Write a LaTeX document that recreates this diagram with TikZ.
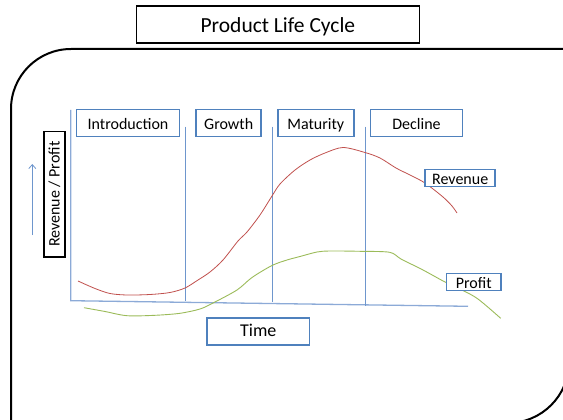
\documentclass[tikz,border=0pt]{standalone}
\usepackage{fontspec}
\setmainfont{Carlito}
\usetikzlibrary{arrows.meta}
\definecolor{boxblue}{RGB}{79,129,189}
\definecolor{lineblue}{RGB}{110,150,205}
\definecolor{axisblue}{RGB}{140,170,215}
\definecolor{revred}{RGB}{192,80,77}
\definecolor{profgreen}{RGB}{155,187,89}
\tikzset{
  labelbox/.style={draw=boxblue, line width=1.7pt, fill=white, inner sep=0pt,
    font=\fontsize{16}{19}\selectfont, text=black, text height=14.6pt, text depth=2pt},
  blackbox/.style={draw=black, line width=1.8pt, fill=white, inner sep=0pt, text=black},
  phaseline/.style={draw=lineblue, line width=0.9pt},
  axisline/.style={draw=axisblue, line width=1.3pt},
  revcurve/.style={draw=revred, line width=0.8pt},
  profcurve/.style={draw=profgreen, line width=0.9pt},
  frameline/.style={draw=black, line width=2pt}
}
\begin{document}
\begin{tikzpicture}[x=1pt,y=-1pt]
\useasboundingbox (0,0) rectangle (563,420);
\begin{scope}
\clip (0,0) rectangle (563,420);
\draw[frameline] (11,423) -- (11,109) arc[start angle=180,end angle=270,radius=60]
  -- (569,49) -- (569,362) arc[start angle=0,end angle=90,radius=61] -- cycle;
\end{scope}

% title
\node[blackbox, minimum width=283pt, minimum height=37pt, text height=18pt, text depth=2.8pt,
  font=\fontsize{21.5}{25}\selectfont] (title) at (277.9,24.7) {Product Life Cycle};

% axes
\coordinate (ytop) at (70.7,110);
\coordinate (origin) at (70.7,300.7);
\coordinate (xend) at (468,306.3);
\draw[axisline] (ytop) -- (origin) -- (xend);

% phase separators
\coordinate (s1t) at (185,126.7); \coordinate (s1b) at (185,300.8);
\coordinate (s2t) at (272,126.7); \coordinate (s2b) at (272,301.5);
\coordinate (s3t) at (365,126.7); \coordinate (s3b) at (365,306);
\draw[phaseline] (s1t) -- (s1b);
\draw[phaseline] (s2t) -- (s2b);
\draw[phaseline] (s3t) -- (s3b);

% y arrow
\coordinate (arrS) at (32.3,235);
\coordinate (arrE) at (32.3,164);
\draw[draw=lineblue, line width=0.8pt, -{Straight Barb[length=4pt,width=7pt]}] (arrS) -- (arrE);

% curves
\draw[revcurve] plot[smooth, tension=0.5] coordinates {
 (78,281) (95,288.5) (110,293.5) (127,295) (150,294.5) (170,292.5) (185,288)
 (198,280) (210,272) (223,260) (238,241) (247,232) (260,215) (272,196)
 (280,184) (295,170) (310,160) (325,153) (343,147.5) (365,152.5) (380,158)
 (396,168) (410,175) (425,183) (443,197) (452,206) (457,213)};
\draw[profcurve] plot[smooth, tension=0.5] coordinates {
 (84,307.7) (105,311.5) (127,315.7) (155,315.3) (180,313.3) (200,309)
 (213,303) (237,290) (252,277.5) (272,265.5) (287,260) (300,256.5)
 (317,252) (330,251) (360,251.3) (389.7,252.3) (401,259) (423,270)
 (445,282) (462,290) (478,299) (500.7,318.3)};

% phase labels
\node[labelbox, minimum width=103pt, minimum height=27pt] (intro) at (128,123) {Introduction};
\node[labelbox, minimum width=65pt, minimum height=27pt] (growth) at (228.7,123) {Growth};
\node[labelbox, minimum width=76pt, minimum height=27pt] (maturity) at (315.8,123) {Maturity};
\node[labelbox, minimum width=92pt, minimum height=27pt] (decline) at (416.5,123) {Decline};

% curve labels
\node[labelbox, minimum width=70pt, minimum height=17pt] (revenue) at (460.2,178) {Revenue};
\node[labelbox, minimum width=54.5pt, minimum height=17pt] (profit) at (473.7,282) {Profit};

% axis labels
\node[labelbox, minimum width=102.5pt, minimum height=27pt, text height=14.5pt, text depth=3.5pt,
  font=\fontsize{18}{21}\selectfont] (time) at (258.3,331.2) {Time};
\node[blackbox, rotate=90, minimum width=125.5pt, minimum height=21pt,
  font=\fontsize{16}{19}\selectfont] (yaxis) at (54.5,194.3) {Revenue / Profit};
\end{tikzpicture}
\end{document}
